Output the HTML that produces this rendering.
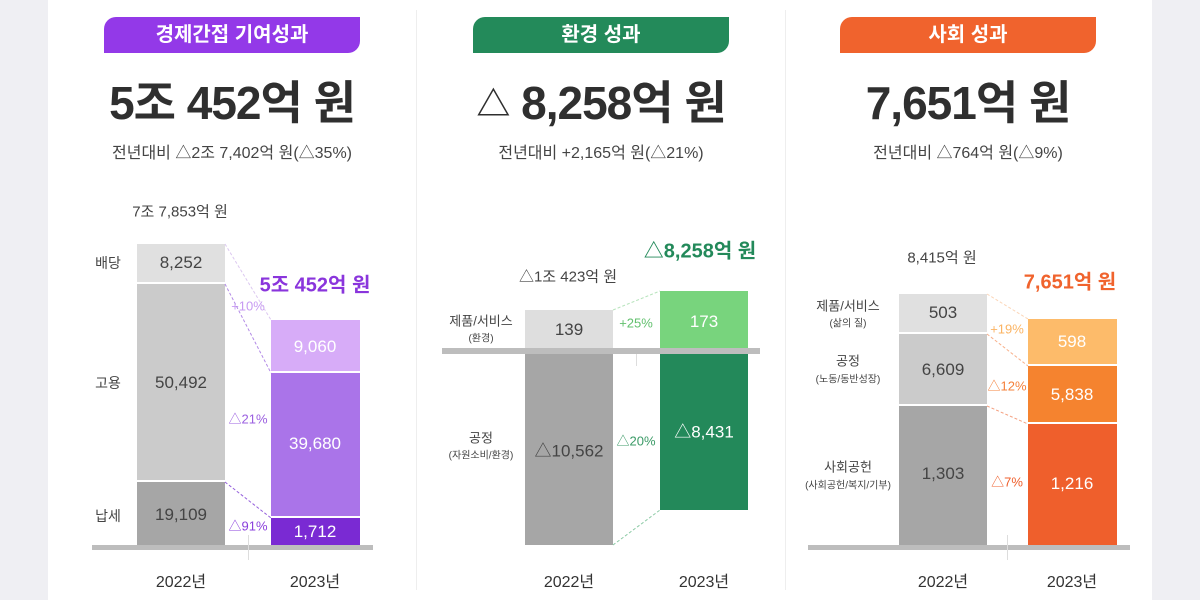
<!DOCTYPE html>
<html><head><meta charset="utf-8">
<style>
*{margin:0;padding:0;box-sizing:border-box}
body{width:1200px;height:600px;overflow:hidden;background:#efeff3;font-family:"Liberation Sans","Noto Sans CJK KR",sans-serif;position:relative;color:#333}
#w{position:absolute;left:48px;top:0;width:1104px;height:600px;background:#fff}
.a{position:absolute}
.c{position:absolute;transform:translate(-50%,-50%);white-space:nowrap;text-align:center}
.badge{position:absolute;top:17px;height:36px;border-radius:12px 0 12px 0;color:#fff;font-weight:bold;font-size:20px;line-height:36px;text-align:center}
.big{font-size:46px;font-weight:bold;color:#2f2f2f;letter-spacing:-1px}
.sub{font-size:16px;color:#444}
.lbl{font-size:14px;color:#444}
.sm{font-size:10px;color:#444}
.v{font-size:17px;color:#444}
.vw{font-size:17px;color:#fff}
.yr{font-size:16px;color:#333}
.pct{font-size:13px}
.vl{position:absolute;width:1px;background:#eee}
</style></head><body>
<div id="w"></div>
<div class="vl" style="left:416px;top:10px;height:580px"></div>
<div class="vl" style="left:785px;top:10px;height:580px"></div>

<!-- Panel 1 -->
<div class="badge" style="left:104px;width:256px;background:#9339e8">경제간접 기여성과</div>
<div class="c big" style="left:232px;top:100px">5조 452억 원</div>
<div class="c sub" style="left:232px;top:151px">전년대비 △2조 7,402억 원(△35%)</div>
<div class="c" style="left:180px;top:211px;font-size:15px;color:#444">7조 7,853억 원</div>
<div class="a" style="left:137px;top:244px;width:88px;height:38px;background:#e0e0e0"></div>
<div class="a" style="left:137px;top:284px;width:88px;height:196px;background:#cbcbcb"></div>
<div class="a" style="left:137px;top:482px;width:88px;height:63px;background:#a6a6a6"></div>
<div class="a" style="left:271px;top:320px;width:89px;height:51px;background:#d7acf8"></div>
<div class="a" style="left:271px;top:373px;width:89px;height:143px;background:#aa74e9"></div>
<div class="a" style="left:271px;top:518px;width:89px;height:27px;background:#7a2ad3"></div>
<div class="a" style="left:92px;top:545px;width:281px;height:5px;background:#bdbdbd"></div>
<div class="a" style="left:248px;top:535px;width:1px;height:25px;background:#ddd"></div>
<div class="c lbl" style="left:108px;top:263px">배당</div>
<div class="c lbl" style="left:108px;top:383px">고용</div>
<div class="c lbl" style="left:108px;top:516px">납세</div>
<div class="c v" style="left:181px;top:263px">8,252</div>
<div class="c v" style="left:181px;top:383px">50,492</div>
<div class="c v" style="left:181px;top:515px">19,109</div>
<div class="c vw" style="left:315px;top:347px">9,060</div>
<div class="c vw" style="left:315px;top:444px">39,680</div>
<div class="c vw" style="left:315px;top:532px">1,712</div>
<div class="c" style="left:315px;top:283px;font-size:20px;font-weight:bold;color:#8a35dc">5조 452억 원</div>
<div class="c pct" style="left:248px;top:306px;color:#c79af2">+10%</div>
<div class="c pct" style="left:248px;top:418px;color:#9b5fe0">△21%</div>
<div class="c pct" style="left:248px;top:525px;color:#8a3fdc">△91%</div>
<div class="c yr" style="left:181px;top:580px">2022년</div>
<div class="c yr" style="left:315px;top:580px">2023년</div>

<!-- Panel 2 -->
<div class="badge" style="left:473px;width:256px;background:#238a5a">환경 성과</div>
<div class="c big" style="left:601px;top:100px"><span style="font-size:34px;vertical-align:3px">△</span> 8,258억 원</div>
<div class="c sub" style="left:601px;top:151px">전년대비 +2,165억 원(△21%)</div>
<div class="c" style="left:568px;top:276px;font-size:15px;color:#444">△1조 423억 원</div>
<div class="c" style="left:700px;top:249px;font-size:20px;font-weight:bold;color:#23895a">△8,258억 원</div>
<div class="a" style="left:525px;top:310px;width:88px;height:38px;background:#dedede"></div>
<div class="a" style="left:525px;top:354px;width:88px;height:191px;background:#a6a6a6"></div>
<div class="a" style="left:660px;top:291px;width:88px;height:57px;background:#78d47d"></div>
<div class="a" style="left:660px;top:354px;width:88px;height:156px;background:#23895a"></div>
<div class="a" style="left:442px;top:348px;width:318px;height:6px;background:#bdbdbd"></div>
<div class="a" style="left:636px;top:354px;width:1px;height:12px;background:#ddd"></div>
<div class="c lbl" style="left:481px;top:320px;font-size:13px">제품/서비스</div>
<div class="c sm" style="left:481px;top:337px">(환경)</div>
<div class="c lbl" style="left:481px;top:437px;font-size:13px">공정</div>
<div class="c sm" style="left:481px;top:454px">(자원소비/환경)</div>
<div class="c v" style="left:569px;top:330px">139</div>
<div class="c v" style="left:569px;top:449px">△10,562</div>
<div class="c vw" style="left:704px;top:322px">173</div>
<div class="c vw" style="left:704px;top:430px">△8,431</div>
<div class="c pct" style="left:636px;top:323px;color:#62c06e">+25%</div>
<div class="c pct" style="left:636px;top:440px;color:#3a9a66">△20%</div>
<div class="c yr" style="left:569px;top:580px">2022년</div>
<div class="c yr" style="left:704px;top:580px">2023년</div>

<!-- Panel 3 -->
<div class="badge" style="left:840px;width:256px;background:#f0632d">사회 성과</div>
<div class="c big" style="left:968px;top:100px">7,651억 원</div>
<div class="c sub" style="left:968px;top:151px">전년대비 △764억 원(△9%)</div>
<div class="c" style="left:942px;top:257px;font-size:15px;color:#444">8,415억 원</div>
<div class="c" style="left:1070px;top:280px;font-size:20px;font-weight:bold;color:#f0632d">7,651억 원</div>
<div class="a" style="left:899px;top:294px;width:88px;height:38px;background:#e0e0e0"></div>
<div class="a" style="left:899px;top:334px;width:88px;height:70px;background:#cbcbcb"></div>
<div class="a" style="left:899px;top:406px;width:88px;height:139px;background:#a6a6a6"></div>
<div class="a" style="left:1028px;top:319px;width:89px;height:45px;background:#fdbb6a"></div>
<div class="a" style="left:1028px;top:366px;width:89px;height:56px;background:#f5832f"></div>
<div class="a" style="left:1028px;top:424px;width:89px;height:121px;background:#ef5f2c"></div>
<div class="a" style="left:808px;top:545px;width:322px;height:5px;background:#bdbdbd"></div>
<div class="a" style="left:1007px;top:535px;width:1px;height:25px;background:#ddd"></div>
<div class="c lbl" style="left:848px;top:305px;font-size:13px">제품/서비스</div>
<div class="c sm" style="left:848px;top:322px">(삶의 질)</div>
<div class="c lbl" style="left:848px;top:360px;font-size:13px">공정</div>
<div class="c sm" style="left:848px;top:378px">(노동/동반성장)</div>
<div class="c lbl" style="left:848px;top:466px;font-size:13px">사회공헌</div>
<div class="c sm" style="left:848px;top:484px">(사회공헌/복지/기부)</div>
<div class="c v" style="left:943px;top:313px">503</div>
<div class="c v" style="left:943px;top:370px">6,609</div>
<div class="c v" style="left:943px;top:474px">1,303</div>
<div class="c vw" style="left:1072px;top:342px">598</div>
<div class="c vw" style="left:1072px;top:395px">5,838</div>
<div class="c vw" style="left:1072px;top:484px">1,216</div>
<div class="c pct" style="left:1007px;top:329px;color:#fbb463">+19%</div>
<div class="c pct" style="left:1007px;top:385px;color:#f5803a">△12%</div>
<div class="c pct" style="left:1007px;top:481px;color:#ef5f2c">△7%</div>
<div class="c yr" style="left:943px;top:580px">2022년</div>
<div class="c yr" style="left:1072px;top:580px">2023년</div>

<svg class="a" style="left:0;top:0" width="1200" height="600">
<g fill="none" stroke-width="1" stroke-dasharray="3,2">
<line x1="225" y1="244" x2="271" y2="320" stroke="#dcc8f0"/>
<line x1="225" y1="284" x2="271" y2="373" stroke="#b28ae6"/>
<line x1="225" y1="482" x2="271" y2="518" stroke="#9560dc"/>
<line x1="613" y1="310" x2="660" y2="291" stroke="#b8e4bd"/>
<line x1="613" y1="545" x2="660" y2="510" stroke="#8ccaa5"/>
<line x1="987" y1="294" x2="1028" y2="319" stroke="#fbd6b8"/>
<line x1="987" y1="334" x2="1028" y2="366" stroke="#f8b08a"/>
<line x1="987" y1="406" x2="1028" y2="424" stroke="#f4a080"/>
</g></svg>
</body></html>
